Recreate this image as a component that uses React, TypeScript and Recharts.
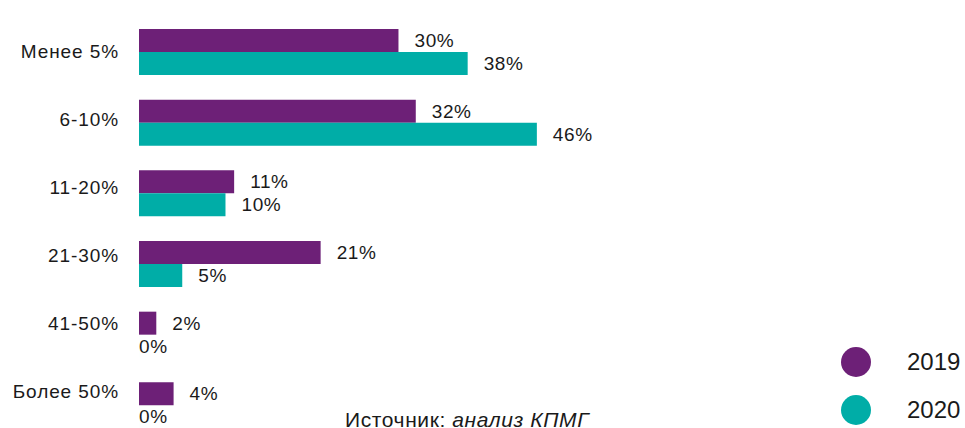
import React from 'react';
import { BarChart, Bar, XAxis, YAxis, LabelList } from 'recharts';

const categories = ['Менее 5%', '6-10%', '11-20%', '21-30%', '41-50%', 'Более 50%'];
const values2019 = [30, 32, 11, 21, 2, 4];
const values2020 = [38, 46, 10, 5, 0, 0];
const seriesNames = ['2019', '2020'];
const seriesColors = ['#6D2077', '#00ADA7'];
const sourceLabel = 'Источник: ';
const sourceText = 'анализ КПМГ';

const data = categories.map((name, i) => ({ name, v2019: values2019[i], v2020: values2020[i] }));

const FONT = '"Liberation Sans", Arial, Helvetica, sans-serif';

const renderLabel = (props: any) => {
  const { x, y, width, height, value } = props;
  const gap = Number(value) > 0 ? 16 : 0;
  return (
    <text
      x={Number(x) + Number(width) + gap}
      y={Number(y) + Number(height) / 2}
      dominantBaseline="central"
      fill="#1a1a1a"
      fontSize={19}
      letterSpacing={0.6}
      fontFamily={FONT}
    >
      {value}%
    </text>
  );
};

export default function App() {
  return (
    <div style={{ position: 'absolute', left: 0, top: 0, width: 965, height: 428, overflow: 'hidden', background: '#fff' }}>
      <BarChart
        width={965}
        height={445}
        data={data}
        layout="vertical"
        margin={{ top: 10, right: 0, left: 0, bottom: 0 }}
        barGap={0}
        barSize={23}
      >
        <XAxis type="number" hide domain={[0, 95.5]} />
        <YAxis
          yAxisId="bars"
          type="category"
          dataKey="name"
          width={0}
          tick={false}
          tickLine={false}
          padding={{ top: 7, bottom: 4 }}
          axisLine={{ stroke: '#6D2077', strokeWidth: 1 }}
        />
        <YAxis
          yAxisId="labels"
          type="category"
          dataKey="name"
          width={139}
          tickLine={false}
          axisLine={false}
          tickSize={0}
          tickMargin={20}
          padding={{ top: 7, bottom: 20 }}
          tick={{ fill: '#1a1a1a', fontSize: 19, fontFamily: FONT, letterSpacing: 0.9 }}
        />
        <Bar yAxisId="bars" dataKey="v2019" name={seriesNames[0]} fill={seriesColors[0]} isAnimationActive={false} minPointSize={0.01}>
          <LabelList dataKey="v2019" content={renderLabel} />
        </Bar>
        <Bar yAxisId="bars" dataKey="v2020" name={seriesNames[1]} fill={seriesColors[1]} isAnimationActive={false} minPointSize={0.01}>
          <LabelList dataKey="v2020" content={renderLabel} />
        </Bar>
      </BarChart>
      <div style={{ position: 'absolute', left: 841, top: 338, width: 124, fontFamily: FONT }}>
        {seriesNames.map((n, i) => (
          <div key={n} style={{ display: 'flex', alignItems: 'center', height: 48 }}>
            <div style={{ width: 30, height: 30, borderRadius: 15, background: seriesColors[i] }} />
            <span style={{ marginLeft: 36, fontSize: 24, color: '#1a1a1a' }}>{n}</span>
          </div>
        ))}
      </div>
      <div style={{ position: 'absolute', left: 345, top: 409, fontSize: 21, lineHeight: '21px', fontFamily: FONT, color: '#1a1a1a', whiteSpace: 'nowrap', letterSpacing: 0.6 }}>
        {sourceLabel}<i>{sourceText}</i>
      </div>
    </div>
  );
}
